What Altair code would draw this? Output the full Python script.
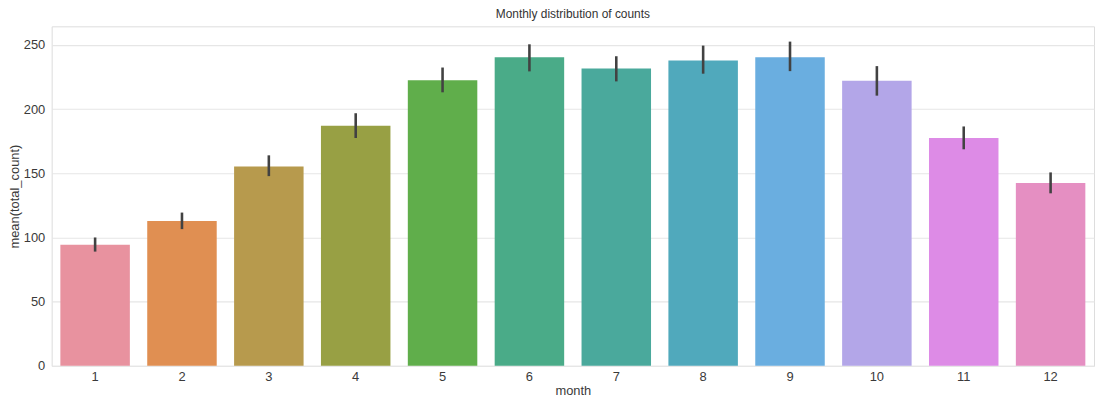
import altair as alt
import pandas as pd

months = [1, 2, 3, 4, 5, 6, 7, 8, 9, 10, 11, 12]
means = [94.4, 112.8, 155.3, 187.0, 222.4, 240.4, 231.7, 237.8, 240.4, 222.1, 177.5, 142.4]
err_low = [89.0, 106.5, 147.8, 177.5, 213.1, 229.4, 221.6, 227.6, 229.6, 210.5, 168.7, 134.4]
err_high = [100.0, 119.4, 164.0, 196.8, 232.4, 250.5, 241.2, 249.5, 252.6, 233.5, 186.5, 150.7]
colors = ["#e8929f", "#e08f52", "#b79a4d", "#98a044", "#60ae4b", "#4aab88",
          "#4aa99c", "#50a9bc", "#6aaee0", "#b3a6e8", "#dd8be6", "#e58fc2"]

df = pd.DataFrame({"month": months, "mean": means, "lo": err_low, "hi": err_high})

FONT = "Liberation Sans"

x = alt.X("month:O", title="month",
          scale=alt.Scale(paddingInner=0.2, paddingOuter=0.1),
          axis=alt.Axis(labelAngle=0, ticks=False, domain=False, labelPadding=5,
                        labelFontSize=13, labelColor="#3a3a3a", titleFontSize=13,
                        titleColor="#3a3a3a", titleFontWeight="normal", titlePadding=1,
                        labelFont=FONT, titleFont=FONT))

bars = alt.Chart(df).mark_bar().encode(
    x=x,
    y=alt.Y("mean:Q", title="mean(total_count)",
            scale=alt.Scale(domain=[0, 264.5], nice=False),
            axis=alt.Axis(values=[0, 50, 100, 150, 200, 250], ticks=False, domain=False,
                          labelPadding=7, labelFontSize=13, labelColor="#3a3a3a",
                          titleFontSize=13, titleColor="#3a3a3a", titleFontWeight="normal",
                          titleX=-43, titleY=171, titleAngle=270, titleAlign="center",
                          titleBaseline="top", gridColor="#e6e6e6", gridWidth=1.2,
                          labelFont=FONT, titleFont=FONT)),
    color=alt.Color("month:O", scale=alt.Scale(domain=months, range=colors), legend=None),
)

errs = alt.Chart(df).mark_rule(color="#424242", strokeWidth=2.6).encode(
    x="month:O",
    y="lo:Q",
    y2="hi:Q",
)

chart = (bars + errs).properties(
    width=1050,
    height=342,
    title=alt.TitleParams("Monthly distribution of counts", fontSize=12,
                          fontWeight="normal", font=FONT, color="#333333", offset=5),
    padding={"left": 44, "top": 17, "right": 4, "bottom": 40},
    autosize=alt.AutoSizeParams(type="none"),
).configure_view(stroke="#e6e6e6", strokeWidth=1.2).configure(background="white")

chart.save("out.html", embed_options={"renderer": "svg", "actions": False})
